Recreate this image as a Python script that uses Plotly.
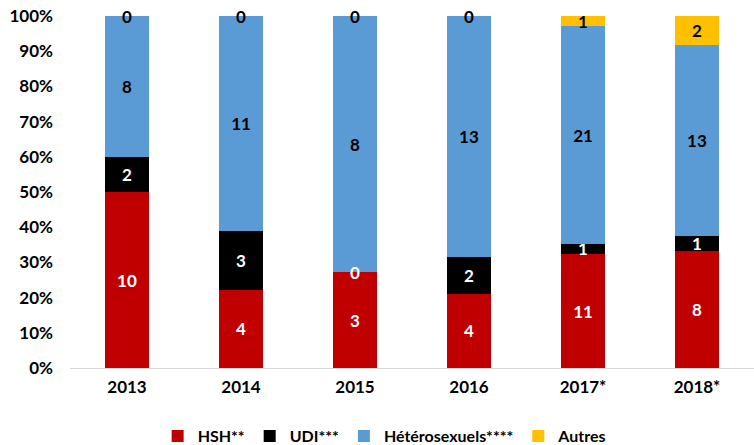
import plotly.graph_objects as go

years = ['2013', '2014', '2015', '2016', '2017*', '2018*']
hsh = [10, 4, 3, 4, 11, 8]
udi = [2, 3, 0, 2, 1, 1]
hetero = [8, 11, 8, 13, 21, 13]
autres = [0, 0, 0, 0, 1, 2]

series = [
    ('HSH**', hsh, '#C00000', 'white'),
    ('UDI***', udi, '#000000', 'white'),
    ('Hétérosexuels****', hetero, '#5B9BD5', 'black'),
    ('Autres', autres, '#FFC000', 'black'),
]

FONT = 'Lato'
FS = 17

fig = go.Figure()
for name, vals, col, tcol in series:
    fig.add_trace(go.Bar(
        x=years, y=vals, name=name,
        marker=dict(color=col, line=dict(width=0)),
        text=[str(v) if v else '' for v in vals],
        textposition='inside', insidetextanchor='middle',
        constraintext='none', textangle=0,
        textfont=dict(color=tcol, size=FS, family=FONT, weight='bold'),
    ))

# labels for zero-height segments, placed at the segment's cumulative position
totals = [sum(s[1][i] for s in series) for i in range(len(years))]
for i, yr in enumerate(years):
    cum = 0
    for name, vals, col, tcol in series:
        if vals[i] == 0:
            fig.add_annotation(
                x=i, y=cum / totals[i] * 100, text='0', showarrow=False,
                yanchor='middle',
                font=dict(color='black' if name == 'Autres' else tcol,
                          size=FS, family=FONT, weight='bold'))
        cum += vals[i]

fig.update_layout(
    width=754, height=445,
    barmode='stack', barnorm='percent', bargap=0.61,
    plot_bgcolor='white', paper_bgcolor='white',
    margin=dict(l=70, r=0, t=16, b=77, autoexpand=False),
    uniformtext=dict(minsize=FS, mode='show'),
    font=dict(family=FONT, size=FS, color='black', weight='bold'),
    legend=dict(orientation='h', x=0.46, xanchor='center', y=-0.145, yanchor='top',
                font=dict(size=16, family=FONT, weight='bold'),
                itemwidth=30, traceorder='normal'),
    showlegend=True,
)
fig.update_xaxes(type='category', range=[-0.5, len(years) - 0.5],
                 showline=True, linecolor='#D9D9D9', linewidth=1,
                 tickfont=dict(size=FS, family=FONT, weight='bold'), ticks='',
                 ticklabelstandoff=4)
fig.update_yaxes(range=[0, 100], dtick=10, ticksuffix='%', showgrid=False,
                 zeroline=False, showline=False, ticklabelstandoff=16,
                 tickfont=dict(size=FS, family=FONT, weight='bold'))

# drop the default 8px page margin so the figure fills the window
fig.write_html("out.html", config={'displayModeBar': False},
               post_script="document.body.style.margin='0';")
